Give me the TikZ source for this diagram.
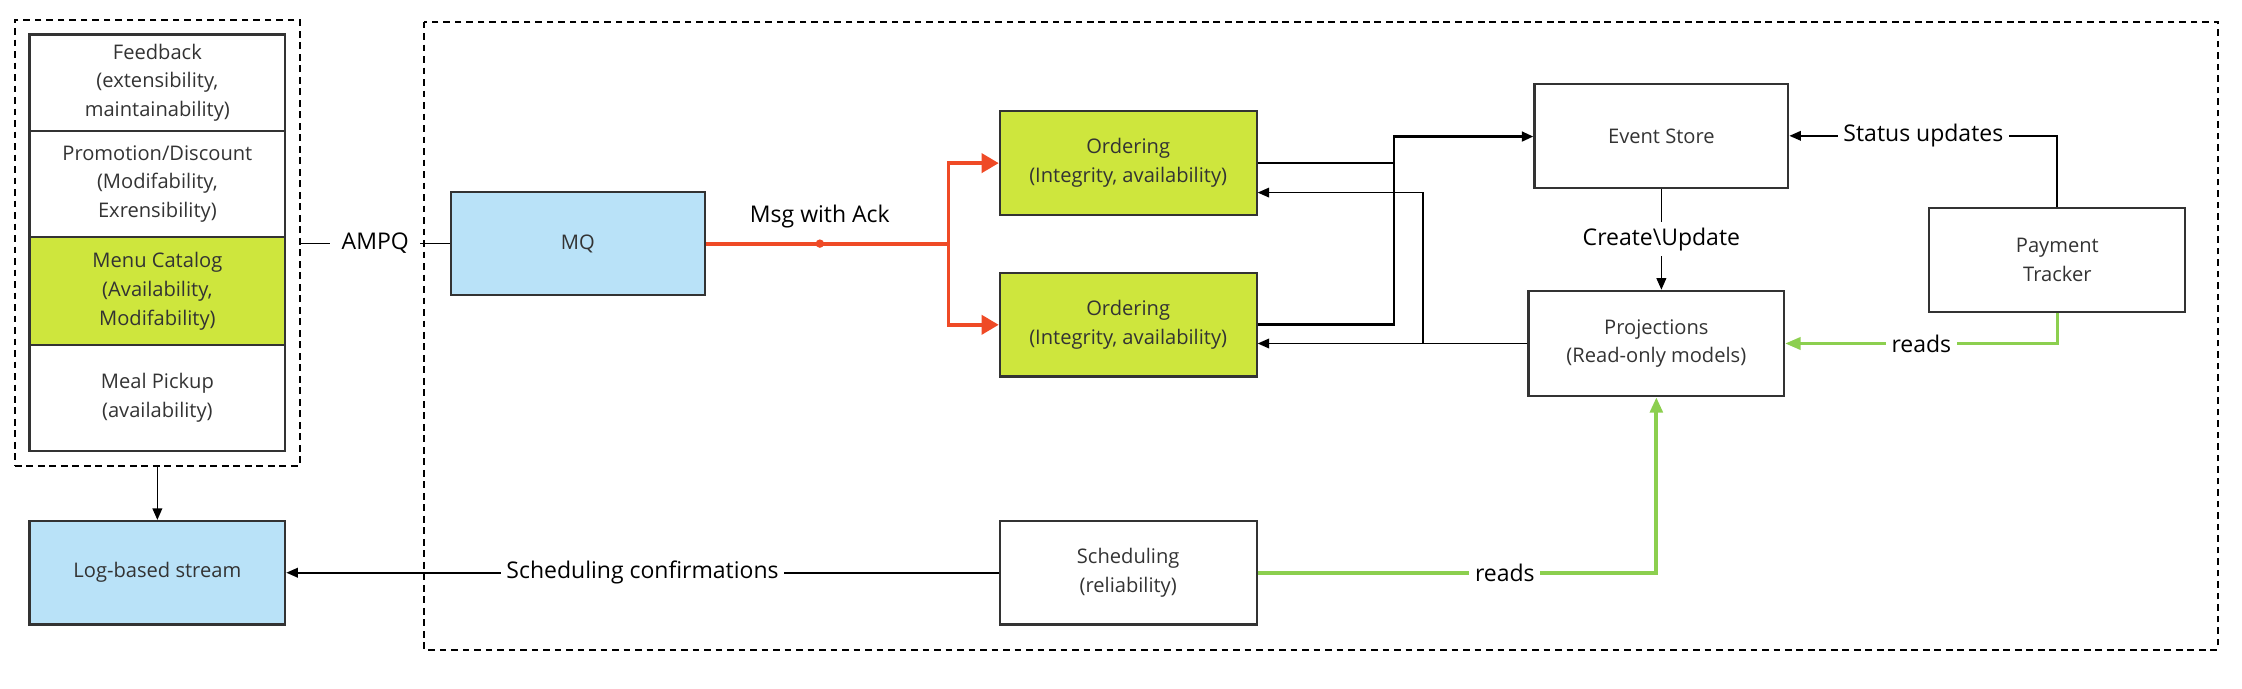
\documentclass[tikz,border=0pt]{standalone}
\usepackage{fontspec}
\setmainfont{Open Sans}
\usetikzlibrary{arrows.meta,fit}
\definecolor{mqblue}{HTML}{B9E2F8}
\definecolor{svcgreen}{HTML}{CEE63D}
\definecolor{ackred}{HTML}{EF4A26}
\definecolor{readgreen}{HTML}{8CCF4F}
\definecolor{boxgray}{HTML}{333333}
\begin{document}
\begin{tikzpicture}[x=0.75pt,y=-0.75pt,
 block/.style={draw=boxgray, line width=1.1pt, minimum width=134pt, minimum height=54pt, align=center, text=boxgray, font=\fontsize{10.5}{15}\selectfont},
 stackbox/.style={block, minimum width=133.5pt},
 group/.style={draw=black, dash pattern=on 3.5pt off 2.5pt, line width=1pt},
 lbl/.style={fill=white, inner sep=3pt, font=\fontsize{12}{14}\selectfont},
 flow/.style={draw=black, line width=0.9pt, -{Triangle[length=6pt,width=5pt]}},
 heavy/.style={flow, line width=1.4pt},
 ackflow/.style={draw=ackred, line width=2pt, -{Triangle[length=9pt,width=10pt]}},
 readflow/.style={draw=readgreen, line width=1.3pt, -{Triangle[length=8pt,width=6.5pt]}}]
\useasboundingbox (0,0) rectangle (1560,479.4);
% left column
\node[stackbox, minimum height=50.25pt] (feedback) at (109.5,57.5) {Feedback\\(extensibility,\\maintainability)};
\node[stackbox, minimum height=55.5pt] (promo) at (109.5,128) {Promotion/Discount\\(Modifability,\\Exrensibility)};
\node[stackbox, minimum height=56.25pt, fill=svcgreen] (menu) at (109.5,202.5) {Menu Catalog\\(Availability,\\Modifability)};
\node[stackbox, minimum height=55.5pt] (pickup) at (109.5,277) {Meal Pickup\\(availability)};
\node[group, fit=(feedback)(pickup), inner sep=7pt] (catalog) {};
\node[stackbox, fill=mqblue] (logstream) at (109.5,398.5) {Log-based stream};
% core services
\draw[group] (295,15) rectangle (1543,452);
\node[block, fill=mqblue, minimum width=132.5pt] (mq) at (402,169.5) {MQ};
\node[block, fill=svcgreen] (ordering1) at (785,113.5) {Ordering\\(Integrity, availability)};
\node[block, fill=svcgreen] (ordering2) at (785,226) {Ordering\\(Integrity, availability)};
\node[block, minimum width=132.5pt] (eventstore) at (1156,94.5) {Event Store};
\node[block, minimum width=133.5pt, minimum height=55pt] (projections) at (1152.5,239) {Projections\\(Read-only models)};
\node[block, minimum width=133.5pt] (payment) at (1431.5,181) {Payment\\Tracker};
\node[block] (scheduling) at (785,398.5) {Scheduling\\(reliability)};
\coordinate (split) at (660,169.5);
\coordinate (joinA) at (970,95);
\coordinate (backA) at (990,134);
% connectors
\draw[flow] (catalog.south) -- (logstream.north);
\draw[line width=0.9pt] (catalog.east |- mq.west) -- node[lbl, inner xsep=6pt]{AMPQ} (mq.west);
\draw[draw=ackred, line width=2pt] (mq.east) -- coordinate[pos=0.47] (ackdot) node[pos=0.47, above=4pt, font=\fontsize{12}{14}\selectfont]{Msg with Ack} (split);
\fill[ackred] (ackdot) circle[radius=2.2pt];
\draw[ackflow] (split) |- (ordering1.west);
\draw[ackflow] (split) |- (ordering2.west);
\draw[heavy] (ordering1.east) -| (joinA) -- (joinA -| eventstore.west);
\draw[line width=1.4pt] (ordering2.east) -| (joinA);
\draw[flow] (projections.west) -- (projections.west -| ordering2.east);
\draw[flow] (projections.west) -| (backA) -- (backA -| ordering1.east);
\draw[flow] (eventstore.south) -- node[lbl]{Create\textbackslash Update} (eventstore.south |- projections.north);
\draw[flow] (payment.north) |- node[lbl, pos=0.75]{Status updates} (eventstore.east);
\draw[readflow] (payment.south) |- node[lbl, pos=0.75]{reads} (projections.east);
\draw[readflow, line width=2pt] (scheduling.east) -| node[lbl, pos=0.31]{reads} (projections.south);
\draw[flow] (scheduling.west) -- node[lbl]{Scheduling confirmations} (logstream.east);
\end{tikzpicture}
\end{document}
